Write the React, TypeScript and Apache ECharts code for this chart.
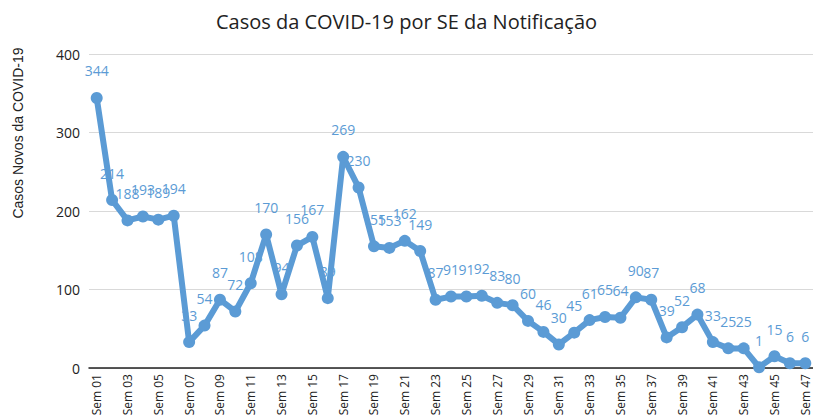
import React, { useEffect, useRef } from "react";
import * as echarts from "echarts";

const weeks: string[] = Array.from({ length: 47 }, (_, i) => "Sem " + String(i + 1).padStart(2, "0"));
const cases: number[] = [
  344, 214, 188, 193, 189, 194, 33, 54, 87, 72, 108, 170, 94, 156, 167, 89, 269, 230, 155, 153,
  162, 149, 87, 91, 91, 92, 83, 80, 60, 46, 30, 45, 61, 65, 64, 90, 87, 39, 52, 68, 33, 25, 25,
  1, 15, 6, 6,
];
const yTicks = { min: 0, max: 400, interval: 100 };
const yTitle = "Casos Novos da COVID-19";

export default function App() {
  const ref = useRef<HTMLDivElement>(null);
  useEffect(() => {
    const chart = echarts.init(ref.current!, null, { renderer: "svg" });
    chart.setOption({
      animation: false,
      title: {
        text: "Casos da COVID-19 por SE da Notificação",
        left: "center",
        top: 6,
        textStyle: { fontFamily: "Open Sans", fontSize: 20, fontWeight: "normal", color: "#222" },
      },
      graphic: [
        {
          type: "text",
          x: 18,
          y: 133,
          rotation: Math.PI / 2,
          style: {
            text: yTitle,
            fontFamily: "Liberation Sans",
            fontSize: 14,
            fill: "#222",
            align: "center",
            verticalAlign: "middle",
          },
        },
      ],
      grid: { left: 89, right: -4, top: 54, bottom: 51 },
      xAxis: {
        type: "category",
        data: weeks,
        boundaryGap: true,
        axisLine: { lineStyle: { color: "#222", width: 1.5 } },
        axisTick: { show: false },
        axisLabel: {
          rotate: 90,
          interval: 1,
          fontFamily: "Liberation Sans Narrow, Open Sans",
          fontSize: 12,
          color: "#222",
          margin: 6,
        },
      },
      yAxis: {
        type: "value",
        min: yTicks.min,
        max: yTicks.max,
        interval: yTicks.interval,
        axisLabel: { fontFamily: "Open Sans", fontSize: 14, color: "#222", margin: 9 },
        splitLine: { lineStyle: { color: "#d9d9d9", width: 1 } },
        axisLine: { show: false },
        axisTick: { show: false },
      },
      series: [
        {
          type: "line",
          data: cases,
          symbol: "circle",
          symbolSize: 12,
          showAllSymbol: true,
          lineStyle: { color: "#5B9BD5", width: 6 },
          itemStyle: { color: "#5B9BD5" },
          labelLayout: { hideOverlap: false },
          label: {
            show: true,
            position: "top",
            distance: 14,
            fontFamily: "Open Sans",
            fontSize: 14,
            color: "#5B9BD5",
          },
        },
      ],
    });
    return () => chart.dispose();
  }, []);
  return <div ref={ref} style={{ width: 813, height: 419, position: "absolute", left: 0, top: 0 }} />;
}
